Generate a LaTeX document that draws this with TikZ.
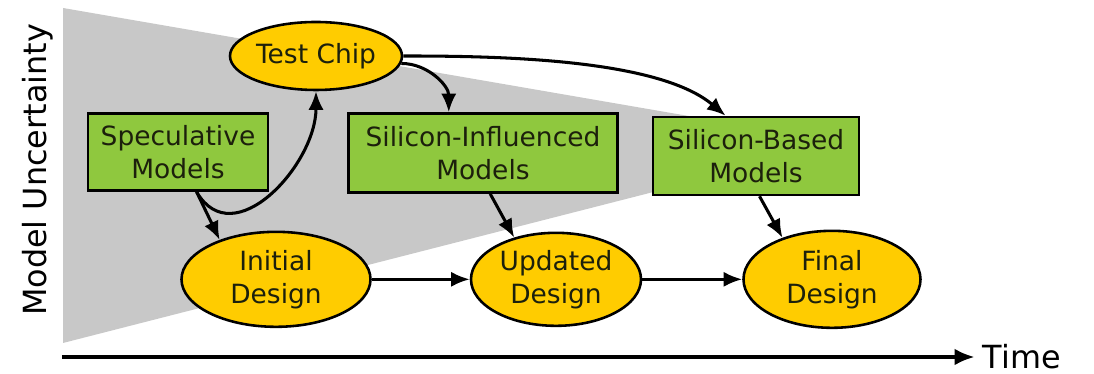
\documentclass[tikz,border=0pt]{standalone}
\usepackage{fontspec}
\setmainfont{DejaVu Sans}
\usetikzlibrary{shapes,arrows.meta,positioning,calc}
\definecolor{modelgreen}{RGB}{143,200,62}
\definecolor{designgold}{RGB}{255,204,0}
\definecolor{wedgegray}{RGB}{200,200,200}
\definecolor{inkcolor}{RGB}{28,32,12}

\begin{document}
\begin{tikzpicture}[
  modelbox/.style={draw=black, line width=1.1pt, fill=modelgreen, text=inkcolor,
    rectangle, inner sep=0pt, align=center,
    font=\fontsize{11.3}{14}\selectfont},
  designnode/.style={draw=black, line width=1.1pt, fill=designgold, text=inkcolor,
    ellipse, inner sep=0pt, align=center,
    font=\fontsize{11.3}{14}\selectfont},
  flow/.style={-{Latex[length=2.8mm,width=2.3mm]}, line width=1.3pt, black}
]

\useasboundingbox (0,0) rectangle (16.41,5.61);

% ================= UNCERTAINTY WEDGE =================
\fill[wedgegray] (0.945,5.49) -- (12.675,3.465) -- (0.945,0.465) -- cycle;

% ================= AXES =================
\node[rotate=90, font=\fontsize{13.6}{16}\selectfont] (uncert) at (0.57,3.06)
  {Model Uncertainty};
\coordinate (origin) at (0.93,0.255);
\node[anchor=west, font=\fontsize{13.6}{16}\selectfont] (time) at (14.62,0.255) {Time};
\draw[-{Latex[length=3mm,width=2.5mm]}, line width=1.5pt] (origin) -- (time.west);

% ================= MODELS =================
\node[modelbox, minimum width=2.7cm, minimum height=1.155cm] (spec) at (2.67,3.33)
  {Speculative\\Models};
\node[modelbox, minimum width=4.035cm, minimum height=1.185cm] (sim) at (7.245,3.315)
  {Silicon-Influenced\\Models};
\node[modelbox, minimum width=3.09cm, minimum height=1.17cm] (sb) at (11.34,3.27)
  {Silicon-Based\\Models};

% ================= DESIGNS =================
\node[designnode, minimum width=2.58cm, minimum height=1.02cm] (tc) at (4.74,4.77)
  {Test Chip};
\node[designnode, minimum width=2.835cm, minimum height=1.425cm] (init) at (4.14,1.42)
  {Initial\\Design};
\node[designnode, minimum width=2.55cm, minimum height=1.395cm] (upd) at (8.34,1.42)
  {Updated\\Design};
\node[designnode, minimum width=2.655cm, minimum height=1.455cm] (fin) at (12.48,1.42)
  {Final\\Design};

% ================= FLOWS =================
\draw[flow] (spec.-65) -- (init.145);
\draw[flow] (spec.-65) to[out=-60,in=-90,looseness=1.2] (tc.south);
\draw[flow] (tc.-5) to[out=0,in=90] (sim.130);
\draw[flow] (tc.east) to[out=0,in=140,looseness=0.7] (sb.127);
\draw[flow] (sim.-80) -- (upd.135);
\draw[flow] (sb.-85) -- (fin.140);
\draw[flow] (init) -- (upd);
\draw[flow] (upd) -- (fin);

\end{tikzpicture}
\end{document}
